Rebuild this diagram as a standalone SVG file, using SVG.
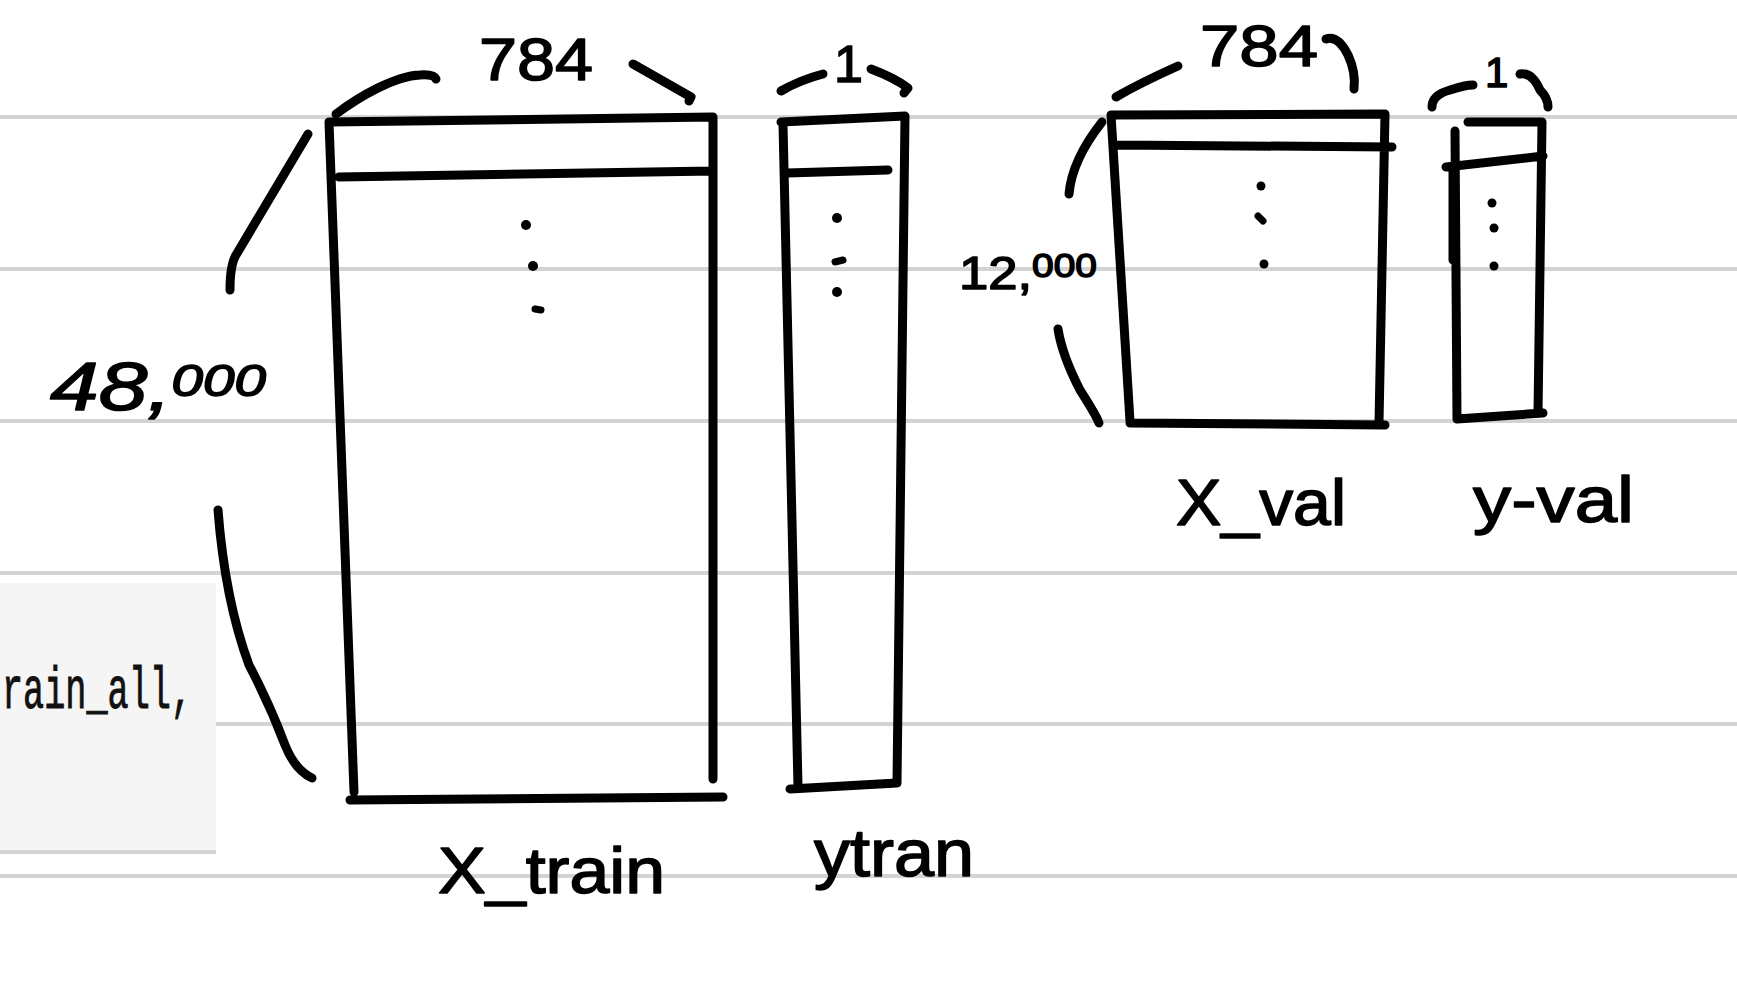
<svg xmlns="http://www.w3.org/2000/svg" width="1737" height="1000" viewBox="0 0 1737 1000">
<style>
.rule{stroke:#d3d3d3;stroke-width:4;fill:none}
.ink{fill:none;stroke:#000;stroke-width:9;stroke-linecap:round;stroke-linejoin:round}
.thin{fill:none;stroke:#000;stroke-width:7;stroke-linecap:round;stroke-linejoin:round}
.dot{fill:#000}
.hand{font-family:"Liberation Sans","DejaVu Sans",sans-serif;fill:#000;stroke:#000;stroke-width:1.5;stroke-linejoin:round}
.code{font-family:"Liberation Mono","DejaVu Sans Mono",monospace;fill:#111;stroke:#111;stroke-width:1}
</style>
<rect width="1737" height="1000" fill="#fff"/>
<g id="paper">
<line class="rule" x1="0" y1="117" x2="1737" y2="117"/>
<line class="rule" x1="0" y1="269" x2="1737" y2="269"/>
<line class="rule" x1="0" y1="421" x2="1737" y2="421"/>
<line class="rule" x1="0" y1="573" x2="1737" y2="573"/>
<rect x="0" y="583" width="216" height="269" fill="#f5f5f5"/>
<line class="rule" x1="0" y1="852" x2="216" y2="852"/>
<line class="rule" x1="216" y1="724" x2="1737" y2="724"/>
<line class="rule" x1="0" y1="876" x2="1737" y2="876"/>
<text class="code" x="2" y="708" font-size="60" textLength="190" lengthAdjust="spacingAndGlyphs">rain_all,</text>
</g>
<g id="x_train">
<path class="ink" d="M329,122 L713,117 M329,122 L354,792 M713,117 L713,779 M350,800 L723,797 M339,177 L713,171"/>
<circle class="dot" cx="526" cy="225" r="5"/>
<circle class="dot" cx="533" cy="266" r="5"/>
<path class="thin" d="M535,309 L541,310"/>
<text class="hand" x="438" y="893" font-size="64" textLength="227" lengthAdjust="spacingAndGlyphs">X_train</text>
</g>
<g id="y_train">
<path class="ink" d="M781,122 L905,116 L897,783 L790,789 M783,124 L798,787 M787,173 L888,170"/>
<circle class="dot" cx="837" cy="218" r="5"/>
<path class="thin" d="M835,262 L843,260"/>
<circle class="dot" cx="837" cy="292" r="5"/>
<text class="hand" x="814" y="876" font-size="66" textLength="160" lengthAdjust="spacingAndGlyphs">ytran</text>
</g>
<g id="x_val">
<path class="ink" d="M1111,115 L1385,114 L1379,423 M1111,115 L1130,421 M1130,423 L1385,425 M1117,145 L1392,147"/>
<circle class="dot" cx="1261" cy="186" r="4.5"/>
<path class="thin" d="M1258,216 L1263,221"/>
<circle class="dot" cx="1264" cy="264" r="4.5"/>
<text class="hand" x="1176" y="525" font-size="64" textLength="170" lengthAdjust="spacingAndGlyphs">X_val</text>
</g>
<g id="y_val">
<path class="ink" d="M1468,122 L1542,122 L1538,413 M1455,131 L1457,419 L1543,413 M1446,167 L1543,156 M1453,170 L1453,260"/>
<circle class="dot" cx="1492" cy="203" r="4.5"/>
<circle class="dot" cx="1494" cy="228" r="4.5"/>
<circle class="dot" cx="1494" cy="266" r="4.5"/>
<text class="hand" x="1473" y="522" font-size="64" textLength="161" lengthAdjust="spacingAndGlyphs">y-val</text>
</g>
<g id="connectors">
<path class="ink" d="M336,114 C360,96 395,76 420,75 Q434,74 436,79"/>
<path class="ink" d="M633,64 L691,97 L689,101"/>
<path class="ink" d="M781,91 Q800,80 823,74"/>
<path class="ink" d="M871,69 Q895,78 908,88 L904,93"/>
<path class="ink" d="M308,134 Q270,198 236,255 Q230,265 230,290"/>
<path class="ink" d="M218,510 Q225,600 249,665 Q270,705 285,745 Q295,770 312,778"/>
<path class="ink" d="M1116,97 Q1140,83 1178,66"/>
<path class="ink" d="M1326,39 Q1338,35 1348,55 Q1356,72 1354,89"/>
<path class="ink" d="M1102,122 Q1072,160 1069,194"/>
<path class="ink" d="M1058,329 Q1062,355 1080,390 Q1096,415 1099,423"/>
<path class="ink" d="M1432,107 Q1432,95 1450,90 Q1465,85 1473,85"/>
<path class="ink" d="M1520,74 Q1532,72 1540,90 Q1548,98 1548,107"/>
</g>
<g id="labels">
<text class="hand" x="479" y="80" font-size="60" textLength="114" lengthAdjust="spacingAndGlyphs">784</text>
<text class="hand" x="834" y="82" font-size="52">1</text>
<text class="hand" x="1200" y="66" font-size="58" textLength="118" lengthAdjust="spacingAndGlyphs">784</text>
<text class="hand" x="1485" y="87" font-size="42">1</text>
<text class="hand" x="50" y="410" font-size="68" font-style="italic" textLength="216" lengthAdjust="spacingAndGlyphs">48,<tspan font-size="44" dy="-14">000</tspan></text>
<text class="hand" x="959" y="289" font-size="46" textLength="138" lengthAdjust="spacingAndGlyphs">12,<tspan font-size="34" dy="-12">000</tspan></text>
</g>
</svg>
